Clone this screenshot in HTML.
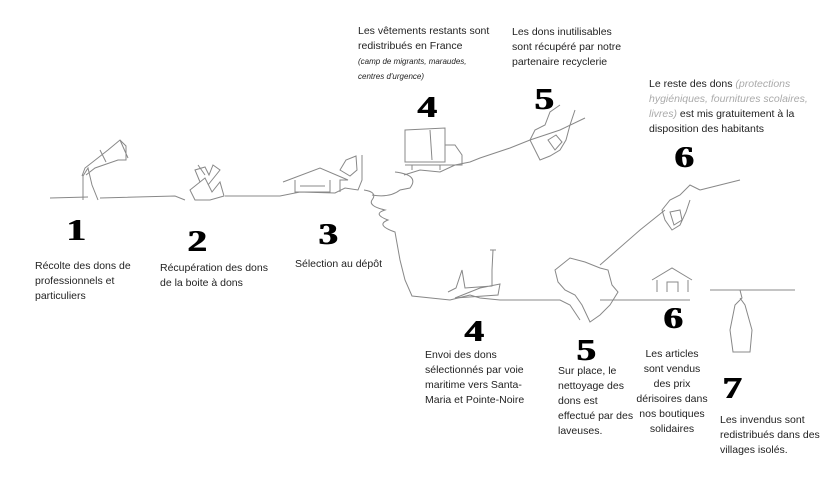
<!DOCTYPE html>
<html><head><meta charset="utf-8"><style>
body{margin:0;width:829px;height:496px;background:#fff;position:relative;overflow:hidden;font-family:"Liberation Sans",sans-serif;color:#222}
.t{position:absolute;font-size:10.5px;line-height:15px;white-space:nowrap}
.n{position:absolute;font-family:"Liberation Serif",serif;font-weight:900;font-size:31px;line-height:1;color:#000;transform:scaleX(1.25);transform-origin:left top;text-shadow:1px 0 0 #000}
.i{font-style:italic;font-size:8px;line-height:13px}
.g{color:#aaa;font-style:italic}
svg{position:absolute;left:0;top:0}
</style></head><body>
<svg width="829" height="496" fill="none" stroke="#888" stroke-width="1">
<path d="M50 198 L88 197 M100 198 L175 196 L185 200 M225 196 L280 196 L300 192 L335 193 L345 188 L358 190 L362 180 L362 155"/>
<path d="M83 200 L83 176 L88 168 L92 185 L98 200 M82 176 L85 168 L108 150 L120 140 L126 146 L126 160 L118 160 L95 168 L86 175"/>
<path d="M120 140 L128 158 M100 150 L106 162"/>
<path d="M190 190 L205 178 L212 192 L220 182 L224 196 L210 200 L195 200 Z M200 182 L195 170 L205 167 L209 175 L213 165 L220 170 L208 185 M205 175 L198 165"/>
<path d="M283 182 L320 168 L348 180 L340 180 L340 192 M295 180 L295 192 L330 192 L330 180 M300 186 L325 186"/>
<path d="M340 170 L346 160 L356 156 L357 170 L350 176 Z"/>
<path d="M364 190 Q378 192 372 200 Q368 206 385 210 Q372 214 388 220 Q375 225 395 232 L400 260 L405 280 L412 296 L450 300 L470 295 L480 298 L500 300 L540 300 L560 300 L570 305 L580 320 M600 300 L690 300 M710 290 L795 290"/>
<path d="M372 195 Q390 198 400 190 L410 188 Q420 175 395 172 M404 175 L420 170 L440 172 L455 165 L470 162 L480 158 L510 148 L530 140 L560 130 L585 118"/>
<path d="M405 130 L445 128 L445 162 L405 162 Z M430 130 L432 160 M445 145 L455 145 L462 155 L462 165 L405 165 M412 165 L412 170 M440 165 L440 170"/>
<path d="M560 105 L550 112 L545 125 L535 130 L530 140 L535 150 L540 160 L550 156 L560 150 L566 140 L570 125 L575 110 M548 140 L556 135 L562 142 L555 150 Z"/>
<path d="M700 190 L690 185 L680 195 L670 200 L662 210 L665 220 L672 230 L680 225 L686 212 L690 200 M700 190 L740 180 M600 265 L640 230 L665 210 M670 212 L680 210 L682 220 L674 225 Z"/>
<path d="M448 292 L456 288 L462 270 L465 288 L492 286 L492 270 L493 250 M490 250 L496 250 M480 288 L500 284 L498 295 L455 298 Z"/>
<path d="M555 270 L570 258 L585 262 L600 268 L608 270 L612 285 L618 292 L610 305 L600 315 L590 322 L582 305 L575 295 L565 290 L558 282 Z"/>
<path d="M652 280 L672 268 L692 280 M657 280 L657 292 M688 280 L688 292 M667 292 L667 282 L678 282 L678 292"/>
<path d="M740 290 L742 298 L735 305 L730 330 L733 352 L750 352 L752 330 L745 305 L740 298"/>
</svg>
<div class="n" style="left:66px;top:214px">1</div>
<div class="n" style="left:187px;top:225px">2</div>
<div class="n" style="left:318px;top:218px">3</div>
<div class="n" style="left:417px;top:91px">4</div>
<div class="n" style="left:534px;top:83px">5</div>
<div class="n" style="left:674px;top:141px">6</div>
<div class="n" style="left:464px;top:315px">4</div>
<div class="n" style="left:576px;top:334px">5</div>
<div class="n" style="left:663px;top:302px">6</div>
<div class="n" style="left:722px;top:372px">7</div>
<div class="t" style="left:35px;top:259px">Récolte des dons de<br>professionnels et<br>particuliers</div>
<div class="t" style="left:160px;top:261px">Récupération des dons<br>de la boite à dons</div>
<div class="t" style="left:295px;top:257px">Sélection au dépôt</div>
<div class="t" style="left:358px;top:24px">Les vêtements restants sont<br>redistribués en France<br><span class="i">(camp de migrants, maraudes,<br>centres d'urgence)</span></div>
<div class="t" style="left:512px;top:25px">Les dons inutilisables<br>sont récupéré par notre<br>partenaire recyclerie</div>
<div class="t" style="left:649px;top:77px">Le reste des dons <span class="g">(protections<br>hygiéniques, fournitures scolaires,<br>livres)</span> est mis gratuitement à la<br>disposition des habitants</div>
<div class="t" style="left:425px;top:348px">Envoi des dons<br>sélectionnés par voie<br>maritime vers Santa-<br>Maria et Pointe-Noire</div>
<div class="t" style="left:558px;top:364px">Sur place, le<br>nettoyage des<br>dons est<br>effectué par des<br>laveuses.</div>
<div class="t" style="left:632px;top:347px;width:80px;text-align:center">Les articles<br>sont vendus<br>des prix<br>dérisoires dans<br>nos boutiques<br>solidaires</div>
<div class="t" style="left:720px;top:413px">Les invendus sont<br>redistribués dans des<br>villages isolés.</div>
</body></html>
